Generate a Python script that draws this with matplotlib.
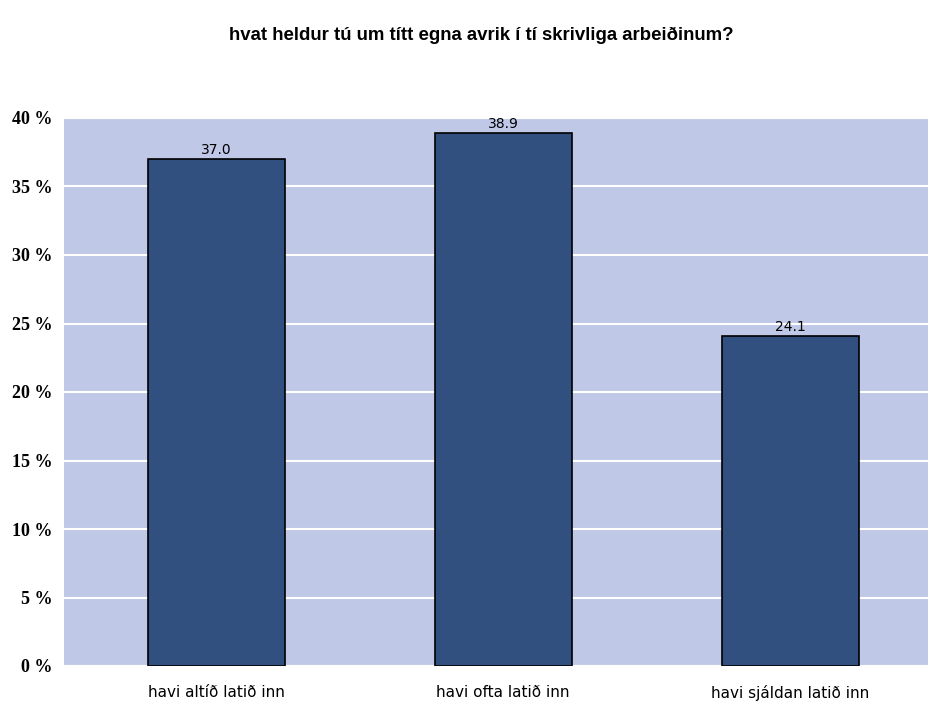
import matplotlib.pyplot as plt
import numpy as np

categories = ['havi altíð latið inn', 'havi ofta latið inn', 'havi sjáldan latið inn']
values = [37.0, 38.9, 24.1]
yticks = [0, 5, 10, 15, 20, 25, 30, 35, 40]
title = 'hvat heldur tú um títt egna avrik í tí skrivliga arbeiðinum?'

fig = plt.figure(figsize=(9.3, 7.05), dpi=100)
ax = fig.add_axes([64 / 930, 1 - 666 / 705, 864 / 930, (666 - 118) / 705])
ax.set_facecolor('#bfc8e6')

x = np.arange(len(categories))
bars = ax.bar(x, values, width=0.478, color='#31507f', edgecolor='black',
              linewidth=1.2, zorder=3)
for b, v in zip(bars, values):
    ax.text(b.get_x() + b.get_width() / 2, v + 0.15, f'{v:.1f}',
            ha='center', va='bottom', fontsize=10, family='DejaVu Sans')

ax.set_xlim(-0.53, 2.48)
ax.set_ylim(0, 40)
ax.set_yticks(yticks)
ax.set_yticklabels([f'{t} %' for t in yticks], family='Liberation Serif',
                   fontweight='bold', fontsize=13)
ax.yaxis.grid(True, color='white', linewidth=1.5, zorder=1)
ax.tick_params(axis='y', length=0, pad=8)
ax.tick_params(axis='x', length=0, pad=14)
ax.set_xticks(x)
ax.set_xticklabels(categories, fontsize=11, family='DejaVu Sans')
for s in ax.spines.values():
    s.set_visible(False)

fig.text(481 / 930, 1 - 35 / 705, title, ha='center', va='center',
         fontsize=13.4, fontweight='bold', family='Liberation Sans')

fig.savefig('out.png', dpi=100)
